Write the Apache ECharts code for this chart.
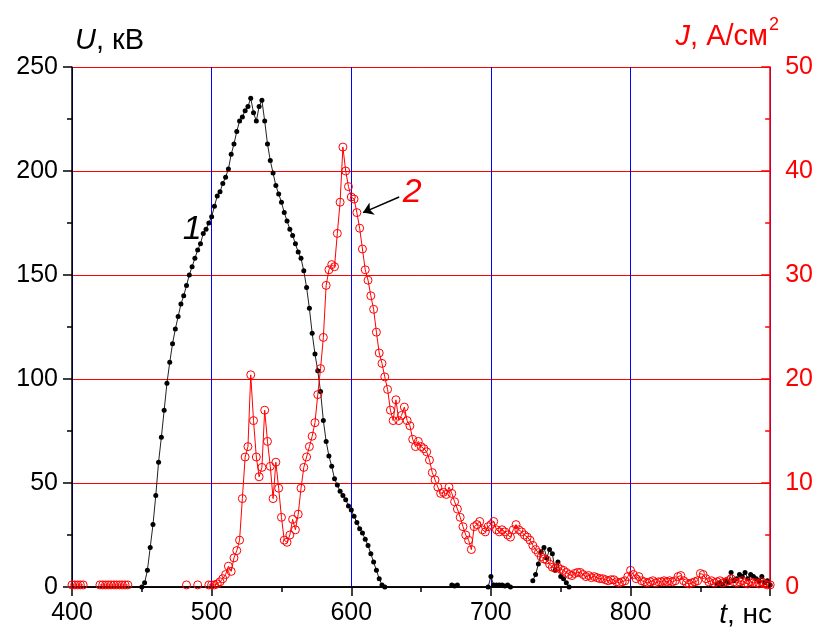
<!DOCTYPE html>
<html>
<head>
<meta charset="utf-8">
<script src="https://cdn.jsdelivr.net/npm/echarts@6/dist/echarts.min.js"></script>
<style>
  html, body { margin: 0; padding: 0; background: #fff; }
  #main { width: 816px; height: 628px; }
</style>
</head>
<body>
<div id="main"></div>
<script>
// time axis: samples every 2 ns from 400 ns
var T_START = 400;
var T_STEP = 2;

// curve 1: U, kV (one row = 20 ns, null = no point)
var voltage = [
  null, null, null, null, null, null, null, null, null, null, // 400
  null, null, null, null, null, null, null, null, null, null, // 420
  null, null, null, null, null, 0, 2, 8, 19, 30,              // 440
  44, 60, 72, 85, 98, 108, 117, 124, 130, 136, // 460
  140, 145, 150, 154, 158, 162, 165, 170, 172, 175, // 480
  178, 183, 188, 190, 194, 197, 201, 208, 213, 219, // 500
  224, 226, 229, 231, 235, 228, 224, 231, 234, 224, // 520
  213, 205, 199, 193, 189, 185, 180, 176, 172, 169, // 540
  165, 161, 158, 152, 144, 134, 122, 112, 104, 94,  // 560
  80, 70, 63, 58, 52, 49, 46, 44, 42, 39,     // 580
  37, 34, 31, 28, 26, 23, 20, 16, 12, 8,      // 600
  4, 1, 0, null, null, null, null, null, null, null,            // 620
  null, null, null, null, null, null, null, null, null, null,   // 640
  null, null, null, null, null, null, 1, 0.5, 1, null,          // 660
  null, null, null, null, null, null, null, null, null, 0,      // 680
  5, 1, 1, 1, 1, 0.5, 1, 0, null, null,                         // 700
  null, null, null, null, null, 3, 6, 11, 17, 19,               // 720
  14, 18, 16, 8, 12, 5, 4, 2, 0, null,                          // 740
  null, null, null, null, null, null, null, null, null, null,   // 760
  null, null, null, null, null, null, null, null, null, null,   // 780
  null, null, null, null, null, null, null, null, null, null,   // 800
  null, null, null, null, null, null, null, null, null, null,   // 820
  null, null, null, null, null, null, null, null, null, null,   // 840
  null, 1, 2, 1, 3, 2, 7, 3, 4, 6,            // 860
  5, 7, 4, 6, 5, 4, 3, 5, 2, 3,               // 880
  1                                           // 900
];

// curve 2: J, A/cm2 (null = no point)
var current = [
  0.2, 0.2, 0.2, 0.2, 0.2, null, null, null, null, null, // 400
  0.2, 0.2, 0.2, 0.2, 0.2, 0.2, 0.2, 0.2, 0.2, 0.2,      // 420
  0.2, null, null, null, null, null, null, null, null, null, // 440
  null, null, null, null, null, null, null, null, null, null, // 460
  null, 0.2, null, null, null, 0.2, null, null, null, 0.2,   // 480
  0.2, 0.2, 0.3, 0.5, 0.8, 1.2, 2.0, 1.5, 2.8, 3.5,      // 500
  4.5, 8.5, 12.5, 13.5, 20.4, 16, 12.5, 10.6, 11.5, 17,  // 520
  14, 11.6, 8.5, 12, 9.5, 6.7, 4.5, 4.3, 5.0, 6.5,       // 540
  5.5, 7, 9.5, 11.5, 12.5, 13.5, 14.5, 15.8, 18.5, 21,   // 560
  24, 29, 30.5, 31, 30.8, 34, 37, 42.3, 40, 38.5,        // 580
  37.5, 37.3, 36, 34.5, 32.5, 30.5, 29.5, 28, 26.7, 24.5, // 600
  22.5, 21.5, 20.2, 19, 17, 16, 18, 16, 16.5, 17.3,      // 620
  16, 15.5, 14.2, 13.5, 14, 13.5, 13.3, 13, 12.2, 11,    // 640
  10.3, 9.6, 9, 9.1, 8.9, 9.6, 9, 8.2, 7.5, 6.7,         // 660
  5.8, 5, 4.5, 3.6, 5.8, 6, 6.3, 5.5, 5.3, 5.8,          // 680
  6, 6.3, 5.5, 5.3, 5.5, 5.3, 5, 4.8, 5.5, 6,            // 700
  5.5, 5.3, 5, 4.8, 4.5, 4, 3.6, 3.3, 2.9, 2.7,          // 720
  2.6, 2.2, 1.9, 1.8, 1.9, 1.7, 1.6, 1.4, 1.2, 1.1,      // 740
  1.3, 1.4, 1.4, 1.2, 1, 1.1, 0.9, 1, 0.9, 0.8,          // 760
  0.8, 0.7, 0.6, 0.7, 0.7, 0.5, 0.4, 0.5, 0.6, 1.0,      // 780
  1.6, 1.2, 0.8, 1, 0.6, 0.5, 0.4, 0.5, 0.6, 0.4,        // 800
  0.5, 0.5, 0.6, 0.5, 0.6, 0.5, 0.6, 1, 1.1, 0.6,        // 820
  0.4, 0.3, 0.4, 0.5, 0.6, 1.3, 1.2, 0.8, 0.5, 0.6,      // 840
  0.4, 0.5, 0.6, 0.4, 0.5, 0.6, 0.8, 0.5, 0.4, 0.5,      // 860
  0.6, 0.4, 0.3, 0.5, 0.4, 0.4, 0.3, 0.5, 0.3, 0.2,      // 880
  0.2                                                    // 900
];

// curve labels and arrow, in data units
var label1 = [486, 172];      // "1" on U axis
var label2 = [643.6, 37.9];   // "2" on J axis
var arrowFrom = [634.3, 37.5];
var arrowTo = [608.4, 36.0];

function toPairs(vals){
    return vals.map(function(v, i){
        return [T_START + i * T_STEP, v === null ? '-' : v];
    });
}

var FONT = '"Liberation Sans", Arial, sans-serif';

var chart = echarts.init(document.getElementById('main'), null, {renderer: 'canvas'});
var option = {
    animation: false,
    backgroundColor: '#fff',
    grid: { left: 72, right: 44, top: 67, bottom: 41 },
    xAxis: [
        {
            type: 'value',
            position: 'bottom',
            min: 400, max: 900, interval: 100,
            axisLine: { lineStyle: { color: '#000', width: 1.5 } },
            axisTick: { inside: false, length: 9, lineStyle: { color: '#000', width: 1.5 } },
            minorTick: { show: true, splitNumber: 2, length: 5, lineStyle: { color: '#000', width: 1.5 } },
            axisLabel: {
                color: '#000', fontSize: 25, fontFamily: FONT, margin: 14,
                formatter: function(v){ return v === 900 ? '' : v; }
            },
            splitLine: { show: true, lineStyle: { color: '#0000ff', width: 1 } }
        },
        {
            type: 'value',
            position: 'top',
            min: 400, max: 900, interval: 100,
            axisLine: { lineStyle: { color: '#000', width: 1.5 } },
            axisTick: { inside: true, length: 9, lineStyle: { color: '#000', width: 1.5 } },
            minorTick: { show: true, splitNumber: 2, length: 5, lineStyle: { color: '#000', width: 1.5 } },
            axisLabel: { show: false },
            splitLine: { show: false }
        }
    ],
    yAxis: [
        {
            type: 'value',
            position: 'left',
            min: 0, max: 250, interval: 50,
            axisLine: { show: true, lineStyle: { color: '#000', width: 1.5 } },
            axisTick: { show: true, inside: false, length: 9, lineStyle: { color: '#000', width: 1.5 } },
            minorTick: { show: true, splitNumber: 2, length: 5, lineStyle: { color: '#000', width: 1.5 } },
            axisLabel: { color: '#000', fontSize: 25, fontFamily: FONT, margin: 14 },
            splitLine: { show: true, lineStyle: { color: '#ff0000', width: 1 } }
        },
        {
            type: 'value',
            position: 'right',
            min: 0, max: 50, interval: 10,
            axisLine: { show: true, lineStyle: { color: '#ff0000', width: 1.5 } },
            axisTick: { show: true, inside: true, length: 9, lineStyle: { color: '#ff0000', width: 1.5 } },
            minorTick: { show: true, splitNumber: 2, length: 5, lineStyle: { color: '#ff0000', width: 1.5 } },
            axisLabel: { color: '#ff0000', fontSize: 25, fontFamily: FONT, margin: 15 },
            splitLine: { show: false }
        }
    ],
    series: [
        {
            name: 'U',
            type: 'line',
            xAxisIndex: 0,
            yAxisIndex: 0,
            data: toPairs(voltage),
            showAllSymbol: true,
            symbol: 'circle',
            symbolSize: 5,
            itemStyle: { color: '#000' },
            lineStyle: { color: '#222', width: 1 },
            markPoint: {
                symbol: 'circle',
                symbolSize: 1,
                itemStyle: { color: 'rgba(0,0,0,0)' },
                label: {
                    show: true, position: 'inside', formatter: '1',
                    color: '#000', fontSize: 34, fontStyle: 'italic', fontFamily: FONT
                },
                data: [{ coord: label1 }]
            }
        },
        {
            name: 'J',
            type: 'line',
            xAxisIndex: 0,
            yAxisIndex: 1,
            data: toPairs(current),
            showAllSymbol: true,
            symbol: 'circle',
            symbolSize: 8,
            itemStyle: { color: 'rgba(255,255,255,0)', borderColor: '#ff0000', borderWidth: 1 },
            lineStyle: { color: '#ff0000', width: 1 },
            markPoint: {
                symbol: 'circle',
                symbolSize: 1,
                itemStyle: { color: 'rgba(0,0,0,0)', borderWidth: 0 },
                label: {
                    show: true, position: 'inside', formatter: '2',
                    color: '#ff0000', fontSize: 34, fontStyle: 'italic', fontFamily: FONT
                },
                data: [{ coord: label2 }]
            },
            markLine: {
                silent: true,
                symbol: ['none', 'arrow'],
                symbolSize: 10,
                label: { show: false },
                lineStyle: { color: '#000', width: 1.5, type: 'solid' },
                data: [[{ coord: arrowFrom }, { coord: arrowTo }]]
            }
        }
    ],
    graphic: [
        {
            type: 'text',
            style: {
                x: 75, y: 41, text: '{i|U}{n|, кВ}',
                verticalAlign: 'middle', align: 'left',
                fill: '#000', fontSize: 29, fontFamily: FONT,
                rich: { i: { fontStyle: 'italic', fontSize: 29, fontFamily: FONT }, n: { fontSize: 29, fontFamily: FONT } }
            }
        },
        {
            type: 'text',
            style: {
                x: 768, y: 37, text: '{i|J}{n|, А/см}',
                verticalAlign: 'middle', align: 'right',
                fill: '#ff0000', fontSize: 29, fontFamily: FONT,
                rich: { i: { fontStyle: 'italic', fontSize: 29, fontFamily: FONT, color: '#ff0000' }, n: { fontSize: 29, fontFamily: FONT, color: '#ff0000' } }
            }
        },
        {
            type: 'text',
            style: {
                x: 769, y: 25, text: '2',
                verticalAlign: 'middle', align: 'left',
                fill: '#ff0000', fontSize: 18, fontFamily: FONT
            }
        },
        {
            type: 'text',
            style: {
                x: 772, y: 615, text: '{i|t}{n|, нс}',
                verticalAlign: 'middle', align: 'right',
                fill: '#000', fontSize: 28, fontFamily: FONT,
                rich: { i: { fontStyle: 'italic', fontSize: 28, fontFamily: FONT }, n: { fontSize: 28, fontFamily: FONT } }
            }
        }
    ]
};
chart.setOption(option);
</script>
</body>
</html>
